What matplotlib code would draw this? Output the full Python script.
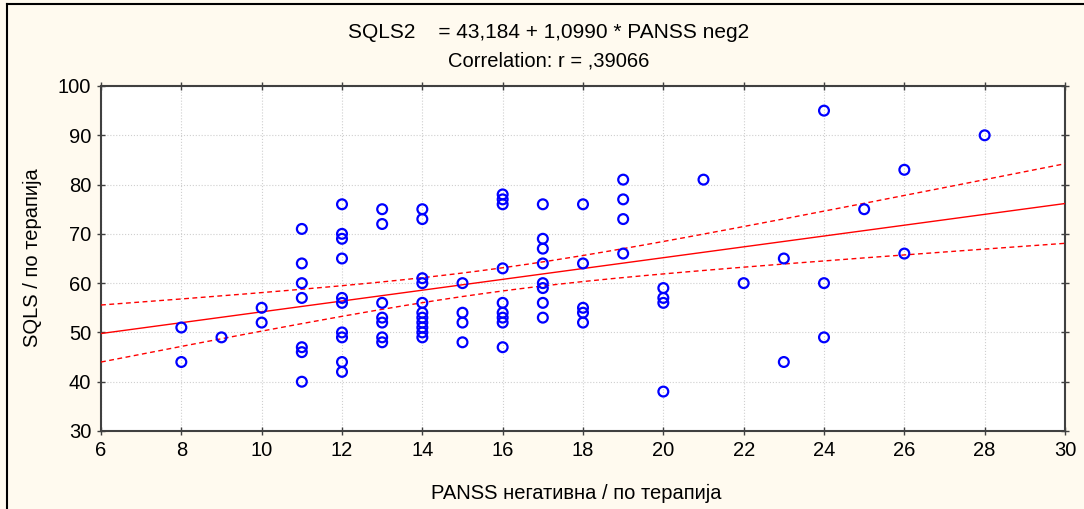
import numpy as np
import matplotlib
matplotlib.use("Agg")
import matplotlib.pyplot as plt

plt.rcParams['font.family'] = ['Liberation Sans', 'DejaVu Sans']

# PANSS negative score (x) and SQLS (y)
panss_x = [8, 8, 9, 10, 10,
           11, 11, 11, 11, 11, 11, 11,
           12, 12, 12, 12, 12, 12, 12, 12, 12, 12,
           13, 13, 13, 13, 13, 13, 13,
           14, 14, 14, 14, 14, 14, 14, 14, 14, 14, 14,
           15, 15, 15, 15,
           16, 16, 16, 16, 16, 16, 16, 16, 16,
           17, 17, 17, 17, 17, 17, 17, 17,
           18, 18, 18, 18, 18,
           19, 19, 19, 19,
           20, 20, 20, 20,
           21, 22, 23, 23, 24, 24, 24, 25, 26, 26, 28]
sqls_y = [51, 44, 49, 55, 52,
          71, 64, 60, 57, 47, 46, 40,
          76, 70, 69, 65, 57, 56, 50, 49, 44, 42,
          75, 72, 56, 53, 52, 49, 48,
          75, 73, 61, 60, 56, 54, 53, 52, 51, 50, 49,
          60, 54, 52, 48,
          78, 77, 76, 63, 56, 54, 53, 52, 47,
          76, 69, 67, 64, 60, 59, 56, 53,
          76, 64, 55, 54, 52,
          81, 77, 73, 66,
          59, 57, 56, 38,
          81, 60, 65, 44, 95, 60, 49, 75, 83, 66, 90]

intercept = 43.184
slope = 1.0990
x_ticks = list(range(6, 31, 2))
y_ticks = list(range(30, 101, 10))

title1 = "SQLS2    = 43,184 + 1,0990 * PANSS neg2"
title2 = "Correlation: r = ,39066"
xlabel = "PANSS негативна / по терапија"
ylabel = "SQLS / по терапија"

bg = "#FFFAEF"
fig = plt.figure(figsize=(10.84, 5.09), dpi=100, facecolor=bg)
ax = fig.add_axes([101/1084, 1 - 431/509, (1065-101)/1084, (431-86)/509])
ax.set_facecolor("white")

x = np.array(panss_x, float)
y = np.array(sqls_y, float)
n = len(x)

xs = np.linspace(6, 30, 200)
yhat = intercept + slope * xs
resid = y - (intercept + slope * x)
s = np.sqrt(np.sum(resid**2) / (n - 2))
sxx = np.sum((x - x.mean())**2)
tval = 1.989
half = tval * s * np.sqrt(1/n + (xs - x.mean())**2 / sxx)

ax.plot(xs, yhat, color="#FF0000", lw=1.0, zorder=3)
ax.plot(xs, yhat + half, color="#FF0000", lw=1.0, ls=(0, (3.5, 2.5)), zorder=3)
ax.plot(xs, yhat - half, color="#FF0000", lw=1.0, ls=(0, (3.5, 2.5)), zorder=3)

ax.scatter(x, y, s=50, facecolors="none", edgecolors="#0000FF", linewidths=1.6, zorder=4)

ax.set_xlim(6, 30)
ax.set_ylim(30, 100)
ax.set_xticks(x_ticks)
ax.set_yticks(y_ticks)
ax.grid(True, color="#cfcfcf", ls=":", lw=0.8)
ax.set_axisbelow(True)
ax.tick_params(axis="both", which="both", direction="inout", length=6, width=1,
               color="#404040", labelsize=14.5, top=True, right=True, pad=4)
for sp in ax.spines.values():
    sp.set_color("#404040")
    sp.set_linewidth(1.5)

fig.text(549/1084, 1 - 32/509, title1, ha="center", va="center", fontsize=15)
fig.text(549/1084, 1 - 61/509, title2, ha="center", va="center", fontsize=14.5)
fig.text(576/1084, 1 - 493/509, xlabel, ha="center", va="center", fontsize=14.5)
fig.text(32/1084, 1 - 258/509, ylabel, ha="center", va="center", fontsize=14.5, rotation=90)

# outer frame (left and top edges visible in the reference)
fig.add_artist(plt.Line2D([7/1084, 7/1084], [0, 1 - 4/509], transform=fig.transFigure, color="black", lw=1.5))
fig.add_artist(plt.Line2D([7/1084, 1], [1 - 4/509, 1 - 4/509], transform=fig.transFigure, color="black", lw=1.5))

fig.savefig("out.png", dpi=100, facecolor=bg)
